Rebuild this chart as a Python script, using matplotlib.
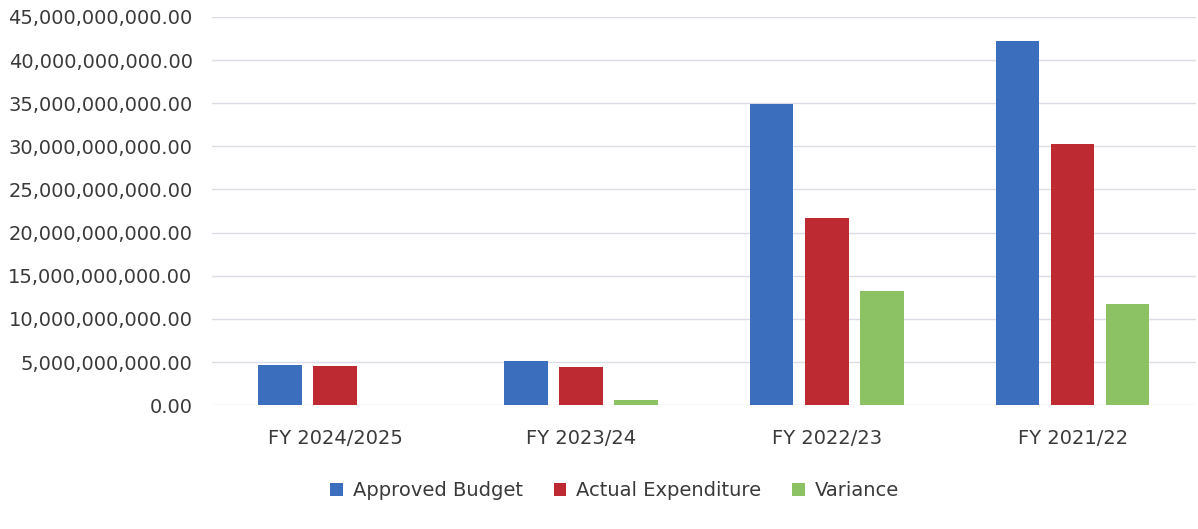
import matplotlib
matplotlib.use("Agg")
import matplotlib.pyplot as plt
from matplotlib.ticker import FuncFormatter, MultipleLocator
import numpy as np

categories = ["FY 2024/2025", "FY 2023/24", "FY 2022/23", "FY 2021/22"]
approved_budget = [4.65e9, 5.15e9, 34.95e9, 42.2e9]
actual_expenditure = [4.5e9, 4.4e9, 21.7e9, 30.25e9]
variance = [0.0, 0.55e9, 13.2e9, 11.7e9]
series_names = ["Approved Budget", "Actual Expenditure", "Variance"]
colors = ["#3C6EBE", "#BE2A32", "#8CC264"]

plt.rcParams['font.family'] = ['DejaVu Sans']
fig = plt.figure(figsize=(11.98, 5.29), dpi=100)
ax = fig.add_axes([0.177, 0.234, 0.821, 0.734])

x = np.arange(len(categories))
step = 0.224
width = 0.177
for i, (vals, name, c) in enumerate(zip([approved_budget, actual_expenditure, variance], series_names, colors)):
    ax.bar(x + (i - 1) * step, vals, width=width, color=c, label=name, zorder=3)

ax.set_xlim(-0.5, 3.5)
ax.set_ylim(0, 45e9)
ax.yaxis.set_major_locator(MultipleLocator(5e9))
ax.yaxis.set_major_formatter(FuncFormatter(lambda v, p: f"{v:,.2f}"))
ax.set_xticks(x)
ax.set_xticklabels(categories)
ax.grid(axis='y', color='#dcdce8', linewidth=1.0, zorder=0)
for s in ax.spines.values():
    s.set_visible(False)
ax.tick_params(axis='both', length=0, labelsize=14, colors='#3a3a3a')
ax.tick_params(axis='y', pad=14)
ax.tick_params(axis='x', pad=17)

leg = fig.legend(loc='center', bbox_to_anchor=(0.513, 0.073), ncol=3, frameon=False,
                 fontsize=14, handlelength=0.65, handleheight=0.65, handletextpad=0.5,
                 columnspacing=1.6)
for t in leg.get_texts():
    t.set_color('#3a3a3a')

fig.savefig("out.png", dpi=100)
